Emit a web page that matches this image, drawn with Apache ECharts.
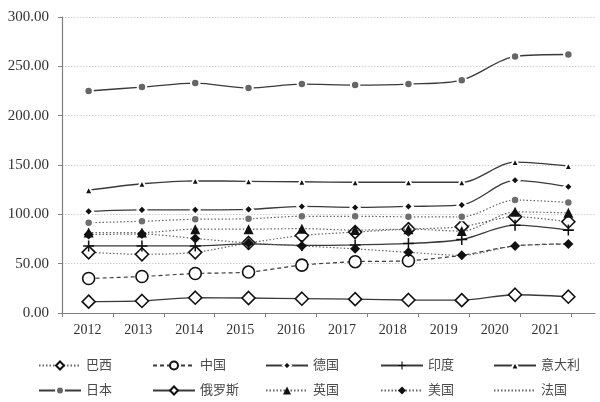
<!DOCTYPE html>
<html>
<head>
<meta charset="utf-8">
<script src="https://cdn.jsdelivr.net/npm/echarts@6/dist/echarts.min.js"></script>
<style>
html,body{margin:0;padding:0;background:#fff;}
#c{width:600px;height:402px;}
</style>
</head>
<body>
<div id="c"></div>
<script>
var years = ['2012','2013','2014','2015','2016','2017','2018','2019','2020','2021'];
var yTicks = [0, 50, 100, 150, 200, 250, 300];

var brazil  = [61.5, 59.5, 61.5, 71, 78.5, 82, 85, 87.5, 97.5, 92.5];
var china   = [35, 37, 40, 41.5, 48.5, 52, 53, 58.5, 68, 70];
var germany = [103, 104.5, 104.5, 105, 108, 107, 108, 109.5, 134.5, 128];
var india   = [68, 68, 68, 70, 68.5, 69, 70.5, 74.5, 89, 84];
var italy   = [124.5, 131, 134, 133.5, 133, 132.5, 132.5, 132.5, 153, 149];
var japan   = [225, 229, 233, 228, 232, 231, 232, 236, 260, 262];
var russia  = [11.5, 12.2, 15.5, 15.2, 14.5, 14, 13.2, 13, 18.5, 16.5];
var uk      = [81.5, 81.5, 85, 85, 85.5, 84, 85, 83, 102.5, 101.5];
var usa     = [79.5, 80, 75.5, 71, 68, 65, 61.5, 58.5, 68, 70];
var france  = [91.5, 93, 95, 95.5, 98, 98, 97.5, 97.5, 114.5, 112];

var names = ['巴西','中国','德国','印度','意大利','日本','俄罗斯','英国','美国','法国'];

var LINE = '#3a3a3a';
var DOT = '#666';
var plusPath = 'path://M4.3,0h1.4v4.3h4.3v1.4h-4.3v4.3h-1.4v-4.3h-4.3v-1.4h4.3z';
var dotted = [1.5, 2];
var fontFam = '"Liberation Serif", "Noto Sans CJK SC", serif';

function mk(name, data, opts) {
  return Object.assign({
    name: name,
    type: 'line',
    xAxisIndex: 0,
    yAxisIndex: 0,
    data: data,
    smooth: 0.3,
    showSymbol: true
  }, opts);
}

var series = [
  mk('巴西', brazil, {
    symbol: 'diamond', symbolSize: 13,
    lineStyle: {color: DOT, width: 1.2, type: dotted},
    itemStyle: {color: '#fff', borderColor: '#111', borderWidth: 1.6}, z: 2
  }),
  mk('中国', china.map(function(v, i){ return i >= 7 ? {value: v, symbol: 'none'} : v; }), {
    symbol: 'circle', symbolSize: 12,
    lineStyle: {color: LINE, width: 1.2, type: [4, 3]},
    itemStyle: {color: '#fff', borderColor: '#111', borderWidth: 1.6}, z: 2
  }),
  mk('德国', germany, {
    symbol: 'diamond', symbolSize: 9,
    lineStyle: {color: LINE, width: 1.3},
    itemStyle: {color: '#111', borderColor: '#fff', borderWidth: 2}, z: 4
  }),
  mk('印度', india, {
    symbol: plusPath, symbolSize: 11,
    lineStyle: {color: LINE, width: 1.3},
    itemStyle: {color: '#111', borderWidth: 0}, z: 4
  }),
  mk('意大利', italy, {
    symbol: 'triangle', symbolSize: 8,
    lineStyle: {color: LINE, width: 1.3},
    itemStyle: {color: '#111', borderColor: '#fff', borderWidth: 2}, z: 4
  }),
  mk('日本', japan, {
    symbol: 'circle', symbolSize: 8.5,
    lineStyle: {color: LINE, width: 1.3},
    itemStyle: {color: '#666', borderColor: '#fff', borderWidth: 2}, z: 4
  }),
  mk('俄罗斯', russia, {
    symbol: 'diamond', symbolSize: 13,
    lineStyle: {color: LINE, width: 1.3},
    itemStyle: {color: '#fff', borderColor: '#111', borderWidth: 1.6}, z: 4
  }),
  mk('英国', uk, {
    symbol: 'triangle', symbolSize: 10,
    lineStyle: {color: DOT, width: 1.2, type: dotted},
    itemStyle: {color: '#111', borderWidth: 0}, z: 5
  }),
  mk('美国', usa, {
    symbol: 'diamond', symbolSize: 10,
    lineStyle: {color: DOT, width: 1.2, type: dotted},
    itemStyle: {color: '#111', borderWidth: 0}, z: 5
  }),
  mk('法国', france, {
    symbol: 'circle', symbolSize: 8,
    lineStyle: {color: DOT, width: 1.2, type: dotted},
    itemStyle: {color: '#6e6e6e', borderColor: '#fff', borderWidth: 1.5}, z: 3
  })
];

var colX = [38, 152, 265, 380, 493];
var rowY = [359, 384];
var legends = names.map(function(n, i){
  var item = {name: n};
  if (n === '法国') {
    item.itemStyle = {color: 'rgba(0,0,0,0)', borderColor: 'rgba(0,0,0,0)', opacity: 0};
  }
  return {
    data: [item],
    left: colX[i % 5],
    top: rowY[Math.floor(i / 5)],
    padding: 0,
    itemWidth: 42,
    itemHeight: 10,
    selectedMode: false,
    textStyle: {fontFamily: fontFam, fontSize: 13, color: '#4a4a4a'}
  };
});

var chart = echarts.init(document.getElementById('c'), null, {renderer: 'canvas'});
chart.setOption({
  animation: false,
  backgroundColor: '#fff',
  legend: legends,
  grid: [
    {left: 62, right: 5, top: 17, bottom: 89, containLabel: false},
    {left: 62, right: 29, top: 17, bottom: 89, containLabel: false}
  ],
  xAxis: [
    {
      type: 'category', gridIndex: 0, data: years, boundaryGap: true,
      axisLine: {show: true, lineStyle: {color: '#808080', width: 1.2}},
      axisTick: {show: false}, axisLabel: {show: false}, splitLine: {show: false}
    },
    {
      type: 'category', gridIndex: 1, data: years, boundaryGap: true,
      axisLine: {show: false},
      axisTick: {show: true, inside: false, length: 4, lineStyle: {color: '#808080'}},
      axisLabel: {show: true, margin: 10, fontFamily: fontFam, fontSize: 14, color: '#333'},
      splitLine: {show: false}
    }
  ],
  yAxis: [
    {
      type: 'value', gridIndex: 0, min: 0, max: 300, interval: 50,
      axisLine: {show: true, lineStyle: {color: '#808080', width: 1.2}},
      axisTick: {show: true, inside: false, length: 4, lineStyle: {color: '#808080'}},
      axisLabel: {margin: 13, fontFamily: fontFam, fontSize: 15, color: '#333',
        formatter: function(v){ return yTicks.indexOf(v) >= 0 ? v.toFixed(2) : ''; }},
      splitLine: {show: true, lineStyle: {color: '#cfcfcf', type: [1.5, 1.5], width: 1}}
    },
    {
      type: 'value', gridIndex: 1, min: 0, max: 300, show: false
    }
  ],
  series: series
});
</script>
</body>
</html>
